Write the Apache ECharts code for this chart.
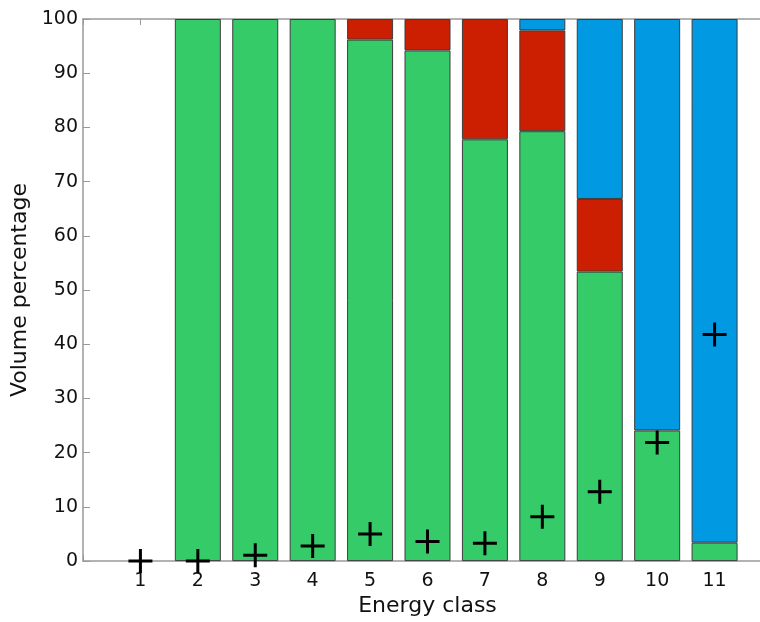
<!DOCTYPE html>
<html>
<head>
<meta charset="utf-8">
<script src="https://cdn.jsdelivr.net/npm/echarts@6/dist/echarts.min.js"></script>
<style>html,body{margin:0;padding:0;background:#fff;overflow:hidden;}#c{width:800px;height:622px;}</style>
</head>
<body>
<div id="c"></div>
<script>
const classes = ['1', '2', '3', '4', '5', '6', '7', '8', '9', '10', '11'];
const greenPct = [null, 100, 100, 100, 96.2, 94.2, 77.8, 79.3, 53.4, 24.1, 3.4];
const redPct   = [null, null, null, null, 3.8, 5.8, 22.2, 18.6, 13.4, null, null];
const bluePct  = [null, null, null, null, null, null, null, 2.1, 33.2, 75.9, 96.6];
const crossVals = [0, 0, 1.1, 2.8, 5.0, 3.6, 3.3, 8.2, 12.8, 21.9, 41.8];
const yTicks = [0, 10, 20, 30, 40, 50, 60, 70, 80, 90, 100];

const FONT = 'DejaVu Sans';
// axis runs from an empty slot before class 1 to an empty slot after class 11
const axisCats = [''].concat(classes, ['']);
const pad = arr => ['-'].concat(arr.map(v => v == null ? '-' : v), ['-']);
const crossPath = 'path://M-1.5,-12 L1.5,-12 L1.5,-1.5 L12,-1.5 L12,1.5 L1.5,1.5 L1.5,12 L-1.5,12 L-1.5,1.5 L-12,1.5 L-12,-1.5 L-1.5,-1.5 Z';

const barBase = {type: 'bar', stack: 'vol', barWidth: 46, xAxisIndex: 0, yAxisIndex: 0};
const border = {borderColor: '#3d3d3d', borderWidth: 1};

const chart = echarts.init(document.getElementById('c'), null, {renderer: 'canvas'});
chart.setOption({
  backgroundColor: '#fff',
  animation: false,
  grid: {left: 83, top: 19, width: 689, height: 543, containLabel: false},
  xAxis: [{
    type: 'category', data: axisCats, boundaryGap: false, position: 'bottom',
    name: 'Energy class', nameLocation: 'middle', nameGap: 30,
    nameTextStyle: {fontFamily: FONT, fontSize: 22, color: '#111'},
    axisLine: {show: true, onZero: false, lineStyle: {color: '#999', width: 1.5}},
    axisTick: {show: true, inside: true, length: 6, interval: 0, lineStyle: {color: '#999'}},
    axisLabel: {fontFamily: FONT, fontSize: 19, color: '#111', margin: 10, interval: 0},
    splitLine: {show: false}
  }, {
    type: 'category', data: axisCats, boundaryGap: false, position: 'top',
    axisLine: {show: true, onZero: false, lineStyle: {color: '#999', width: 1.5}},
    axisTick: {show: true, inside: true, length: 6, interval: 0, lineStyle: {color: '#999'}},
    axisLabel: {show: false}, splitLine: {show: false}
  }],
  yAxis: [{
    type: 'value', min: 0, max: 100, interval: 10, position: 'left',
    name: 'Volume percentage', nameLocation: 'middle', nameGap: 42, nameRotate: 90,
    nameTextStyle: {fontFamily: FONT, fontSize: 22, color: '#111'},
    axisLine: {show: true, lineStyle: {color: '#999', width: 1.5}},
    axisTick: {show: true, inside: true, length: 7, lineStyle: {color: '#999'}},
    axisLabel: {fontFamily: FONT, fontSize: 19, color: '#111', margin: 5,
      formatter: v => yTicks.includes(v) ? String(v) : ''},
    splitLine: {show: false}
  }, {
    type: 'value', min: 0, max: 100, interval: 10, position: 'right',
    axisLine: {show: true, lineStyle: {color: '#999', width: 1.5}},
    axisTick: {show: true, inside: true, length: 7},
    axisLabel: {show: false}, splitLine: {show: false}
  }],
  series: [
    Object.assign({}, barBase, {name: 'green', data: pad(greenPct),
      itemStyle: Object.assign({color: '#36CB69'}, border)}),
    Object.assign({}, barBase, {name: 'red', data: pad(redPct),
      itemStyle: Object.assign({color: '#CC1E00'}, border)}),
    Object.assign({}, barBase, {name: 'blue', data: pad(bluePct),
      itemStyle: Object.assign({color: '#0099E2'}, border)}),
    {
      type: 'scatter', name: 'cross', xAxisIndex: 0, yAxisIndex: 0, z: 10,
      data: pad(crossVals),
      symbol: crossPath, symbolSize: 24,
      itemStyle: {color: '#000', opacity: 1}
    }
  ]
});
</script>
</body>
</html>
